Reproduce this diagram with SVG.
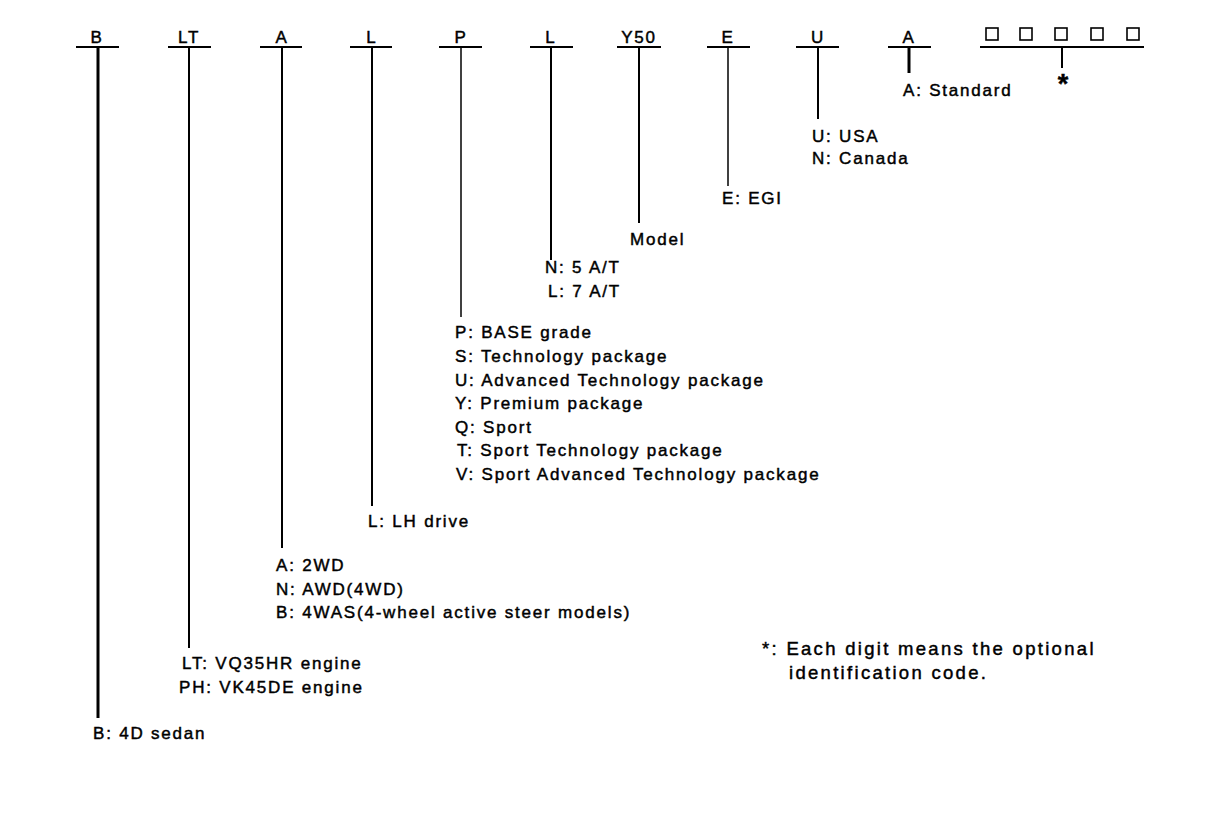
<svg xmlns="http://www.w3.org/2000/svg" width="1216" height="824" viewBox="0 0 1216 824">
<style>
text{font-family:"Liberation Sans",Arial,sans-serif;font-size:17px;fill:#000;stroke:#000;stroke-width:0.45;letter-spacing:1.8px}
.c{text-anchor:middle}
.note{font-size:18.5px;letter-spacing:2.3px}
.ln{stroke:#000;stroke-width:2;fill:none}
.sq{stroke:#000;stroke-width:1.6;fill:none}
</style>
<rect width="1216" height="824" fill="#fff"/>
<g id="connectors">
<line class="ln" x1="76" y1="47" x2="119" y2="47"/>
<line class="ln" x1="98" y1="47" x2="98" y2="718" style="stroke-width:3"/>
<line class="ln" x1="168" y1="47" x2="211" y2="47"/>
<line class="ln" x1="189" y1="47" x2="189" y2="648"/>
<line class="ln" x1="260" y1="47" x2="302" y2="47"/>
<line class="ln" x1="282" y1="47" x2="282" y2="548"/>
<line class="ln" x1="350" y1="47" x2="392" y2="47"/>
<line class="ln" x1="372" y1="47" x2="372" y2="506"/>
<line class="ln" x1="439" y1="47" x2="482" y2="47"/>
<line class="ln" x1="461" y1="47" x2="461" y2="317" style="stroke-width:1.5"/>
<line class="ln" x1="530" y1="47" x2="573" y2="47"/>
<line class="ln" x1="551" y1="47" x2="551" y2="260"/>
<line class="ln" x1="617" y1="47" x2="661" y2="47"/>
<line class="ln" x1="639" y1="47" x2="639" y2="223"/>
<line class="ln" x1="707" y1="47" x2="750" y2="47"/>
<line class="ln" x1="728" y1="47" x2="728" y2="186" style="stroke-width:1.5"/>
<line class="ln" x1="796" y1="47" x2="839" y2="47"/>
<line class="ln" x1="818" y1="47" x2="818" y2="119"/>
<line class="ln" x1="888" y1="47" x2="931" y2="47"/>
<line class="ln" x1="909" y1="47" x2="909" y2="73" style="stroke-width:3"/>
<line class="ln" x1="980" y1="47" x2="1144" y2="47"/>
<line class="ln" x1="1062" y1="47" x2="1062" y2="68"/>
</g>
<g id="codes">
<text class="c" x="97" y="43">B</text>
<text class="c" x="189" y="43">LT</text>
<text class="c" x="282" y="43">A</text>
<text class="c" x="372" y="43">L</text>
<text class="c" x="461" y="43">P</text>
<text class="c" x="551" y="43">L</text>
<text class="c" x="639" y="43">Y50</text>
<text class="c" x="728" y="43">E</text>
<text class="c" x="818" y="43">U</text>
<text class="c" x="909" y="43">A</text>
<rect class="sq" x="986" y="28" width="12" height="12"/>
<rect class="sq" x="1020" y="28" width="12" height="12"/>
<rect class="sq" x="1055" y="28" width="12" height="12"/>
<rect class="sq" x="1091" y="28" width="12" height="12"/>
<rect class="sq" x="1127" y="28" width="12" height="12"/>
<text class="c" x="1063" y="93" style="font-size:27px;font-weight:bold;letter-spacing:0">*</text>
</g>
<g id="n-standard"><text x="903" y="96">A: Standard</text></g>
<g id="n-country"><text x="812" y="142">U: USA</text><text x="812" y="164">N: Canada</text></g>
<g id="n-egi"><text x="722" y="204">E: EGI</text></g>
<g id="n-model"><text x="630" y="245">Model</text></g>
<g id="n-trans"><text x="545" y="273">N: 5 A/T</text><text x="548" y="297">L: 7 A/T</text></g>
<g id="n-grade">
<text x="455" y="338">P: BASE grade</text>
<text x="455" y="362">S: Technology package</text>
<text x="455" y="386">U: Advanced Technology package</text>
<text x="455" y="409">Y: Premium package</text>
<text x="455" y="433">Q: Sport</text>
<text x="457" y="456">T: Sport Technology package</text>
<text x="456" y="480">V: Sport Advanced Technology package</text>
</g>
<g id="n-drive"><text x="368" y="527">L: LH drive</text></g>
<g id="n-axle">
<text x="276" y="571">A: 2WD</text>
<text x="276" y="595">N: AWD(4WD)</text>
<text x="276" y="618">B: 4WAS(4-wheel active steer models)</text>
</g>
<g id="n-engine">
<text x="182" y="669">LT: VQ35HR engine</text>
<text x="179" y="693">PH: VK45DE engine</text>
</g>
<g id="n-body"><text x="93" y="739">B: 4D sedan</text></g>
<g id="n-note">
<text class="note" x="762" y="655">*: Each digit means the optional</text>
<text class="note" x="789" y="679">identification code.</text>
</g>
</svg>
